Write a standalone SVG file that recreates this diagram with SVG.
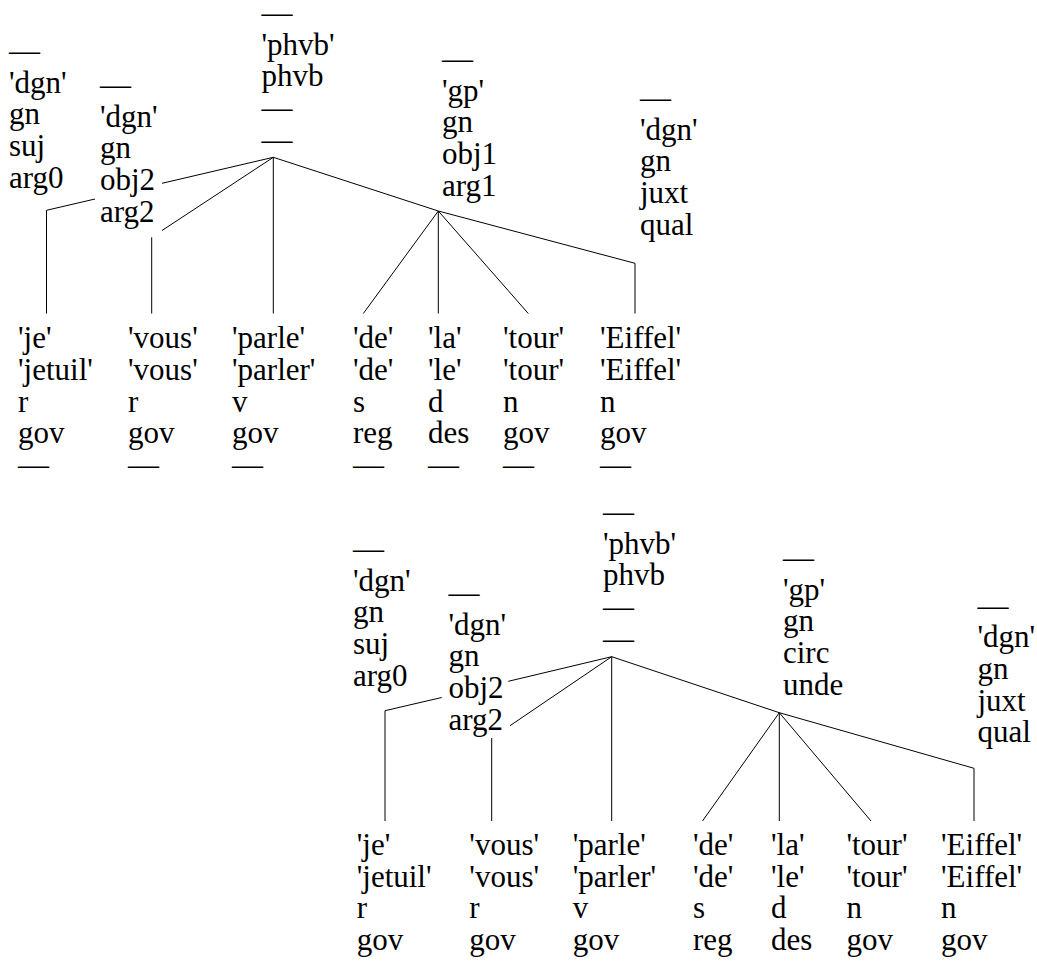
<svg xmlns="http://www.w3.org/2000/svg" width="1037" height="976" viewBox="0 0 1037 976">
<style>
.t{font-family:"Liberation Serif","Times New Roman",serif;font-size:31px;fill:#000}
.c{stroke:#000;stroke-width:1;fill:none}
</style>
<rect x="0" y="0" width="1037" height="976" fill="#fff"/>
<g id="connectors" class="c">
<path d="M273.3,157.3 L162,183.3 M95,199 L46.5,210.3 L46.5,313.5"/>
<path d="M273.3,157.3 L162,230.5 M151.7,237.3 L151.7,313.5"/>
<path d="M273.3,157.3 L273.3,313.5"/>
<path d="M273.3,157.3 L438.3,211"/>
<path d="M438.3,211 L363.3,313.5 M438.3,211 L438.3,313.5 M438.3,211 L528.3,313.5"/>
<path d="M438.3,211 L635,263.3 L635,313.5"/>
<path d="M611.7,656.7 L508.3,681.3 M441.7,697.5 L385,710.7 L385,821"/>
<path d="M611.7,656.7 L510,725.7 M491.7,738 L491.7,821"/>
<path d="M611.7,656.7 L611.7,821"/>
<path d="M611.7,656.7 L779.3,712.7"/>
<path d="M779.3,712.7 L702.5,821 M779.3,712.7 L779.3,821 M779.3,712.7 L871,821"/>
<path d="M779.3,712.7 L974,768.3 L974,821"/>
</g>
<g id="t1-je-label"><text class="t"><tspan x="9" y="61">—</tspan><tspan x="9" y="92.7">'dgn'</tspan><tspan x="9" y="124.4">gn</tspan><tspan x="9" y="156.1">suj</tspan><tspan x="9" y="187.8">arg0</tspan></text></g>
<g id="t1-vous-label"><text class="t"><tspan x="100" y="95">—</tspan><tspan x="100" y="126.7">'dgn'</tspan><tspan x="100" y="158.4">gn</tspan><tspan x="100" y="190.1">obj2</tspan><tspan x="100" y="221.8">arg2</tspan></text></g>
<g id="t1-parle-label"><text class="t"><tspan x="261.5" y="23">—</tspan><tspan x="261.5" y="54.7">'phvb'</tspan><tspan x="261.5" y="86.4">phvb</tspan><tspan x="261.5" y="118.1">—</tspan><tspan x="261.5" y="149.8">—</tspan></text></g>
<g id="t1-gp-label"><text class="t"><tspan x="442" y="69">—</tspan><tspan x="442" y="100.7">'gp'</tspan><tspan x="442" y="132.4">gn</tspan><tspan x="442" y="164.1">obj1</tspan><tspan x="442" y="195.8">arg1</tspan></text></g>
<g id="t1-eiffel-label"><text class="t"><tspan x="640" y="108">—</tspan><tspan x="640" y="139.7">'dgn'</tspan><tspan x="640" y="171.4">gn</tspan><tspan x="640" y="203.1">juxt</tspan><tspan x="640" y="234.8">qual</tspan></text></g>
<g id="t1-je"><text class="t"><tspan x="18" y="348.3">'je'</tspan><tspan x="18" y="380">'jetuil'</tspan><tspan x="18" y="411.7">r</tspan><tspan x="18" y="443.4">gov</tspan><tspan x="18" y="475.1">—</tspan></text></g>
<g id="t1-vous"><text class="t"><tspan x="128" y="348.3">'vous'</tspan><tspan x="128" y="380">'vous'</tspan><tspan x="128" y="411.7">r</tspan><tspan x="128" y="443.4">gov</tspan><tspan x="128" y="475.1">—</tspan></text></g>
<g id="t1-parle"><text class="t"><tspan x="232" y="348.3">'parle'</tspan><tspan x="232" y="380">'parler'</tspan><tspan x="232" y="411.7">v</tspan><tspan x="232" y="443.4">gov</tspan><tspan x="232" y="475.1">—</tspan></text></g>
<g id="t1-de"><text class="t"><tspan x="353" y="348.3">'de'</tspan><tspan x="353" y="380">'de'</tspan><tspan x="353" y="411.7">s</tspan><tspan x="353" y="443.4">reg</tspan><tspan x="353" y="475.1">—</tspan></text></g>
<g id="t1-la"><text class="t"><tspan x="428" y="348.3">'la'</tspan><tspan x="428" y="380">'le'</tspan><tspan x="428" y="411.7">d</tspan><tspan x="428" y="443.4">des</tspan><tspan x="428" y="475.1">—</tspan></text></g>
<g id="t1-tour"><text class="t"><tspan x="503" y="348.3">'tour'</tspan><tspan x="503" y="380">'tour'</tspan><tspan x="503" y="411.7">n</tspan><tspan x="503" y="443.4">gov</tspan><tspan x="503" y="475.1">—</tspan></text></g>
<g id="t1-eiffel"><text class="t"><tspan x="600" y="348.3">'Eiffel'</tspan><tspan x="600" y="380">'Eiffel'</tspan><tspan x="600" y="411.7">n</tspan><tspan x="600" y="443.4">gov</tspan><tspan x="600" y="475.1">—</tspan></text></g>
<g id="t2-je-label"><text class="t"><tspan x="353" y="559">—</tspan><tspan x="353" y="590.7">'dgn'</tspan><tspan x="353" y="622.4">gn</tspan><tspan x="353" y="654.1">suj</tspan><tspan x="353" y="685.8">arg0</tspan></text></g>
<g id="t2-vous-label"><text class="t"><tspan x="448.5" y="603">—</tspan><tspan x="448.5" y="634.7">'dgn'</tspan><tspan x="448.5" y="666.4">gn</tspan><tspan x="448.5" y="698.1">obj2</tspan><tspan x="448.5" y="729.8">arg2</tspan></text></g>
<g id="t2-parle-label"><text class="t"><tspan x="603" y="522">—</tspan><tspan x="603" y="553.7">'phvb'</tspan><tspan x="603" y="585.4">phvb</tspan><tspan x="603" y="617.1">—</tspan><tspan x="603" y="648.8">—</tspan></text></g>
<g id="t2-gp-label"><text class="t"><tspan x="783" y="568">—</tspan><tspan x="783" y="599.7">'gp'</tspan><tspan x="783" y="631.4">gn</tspan><tspan x="783" y="663.1">circ</tspan><tspan x="783" y="694.8">unde</tspan></text></g>
<g id="t2-eiffel-label"><text class="t"><tspan x="977.5" y="615.5">—</tspan><tspan x="977.5" y="647.2">'dgn'</tspan><tspan x="977.5" y="678.9">gn</tspan><tspan x="977.5" y="710.6">juxt</tspan><tspan x="977.5" y="742.3">qual</tspan></text></g>
<g id="t2-je"><text class="t"><tspan x="356.7" y="855">'je'</tspan><tspan x="356.7" y="886.7">'jetuil'</tspan><tspan x="356.7" y="918.4">r</tspan><tspan x="356.7" y="950.1">gov</tspan></text></g>
<g id="t2-vous"><text class="t"><tspan x="469.3" y="855">'vous'</tspan><tspan x="469.3" y="886.7">'vous'</tspan><tspan x="469.3" y="918.4">r</tspan><tspan x="469.3" y="950.1">gov</tspan></text></g>
<g id="t2-parle"><text class="t"><tspan x="572.7" y="855">'parle'</tspan><tspan x="572.7" y="886.7">'parler'</tspan><tspan x="572.7" y="918.4">v</tspan><tspan x="572.7" y="950.1">gov</tspan></text></g>
<g id="t2-de"><text class="t"><tspan x="693" y="855">'de'</tspan><tspan x="693" y="886.7">'de'</tspan><tspan x="693" y="918.4">s</tspan><tspan x="693" y="950.1">reg</tspan></text></g>
<g id="t2-la"><text class="t"><tspan x="771" y="855">'la'</tspan><tspan x="771" y="886.7">'le'</tspan><tspan x="771" y="918.4">d</tspan><tspan x="771" y="950.1">des</tspan></text></g>
<g id="t2-tour"><text class="t"><tspan x="846.4" y="855">'tour'</tspan><tspan x="846.4" y="886.7">'tour'</tspan><tspan x="846.4" y="918.4">n</tspan><tspan x="846.4" y="950.1">gov</tspan></text></g>
<g id="t2-eiffel"><text class="t"><tspan x="941" y="855">'Eiffel'</tspan><tspan x="941" y="886.7">'Eiffel'</tspan><tspan x="941" y="918.4">n</tspan><tspan x="941" y="950.1">gov</tspan></text></g>
</svg>
